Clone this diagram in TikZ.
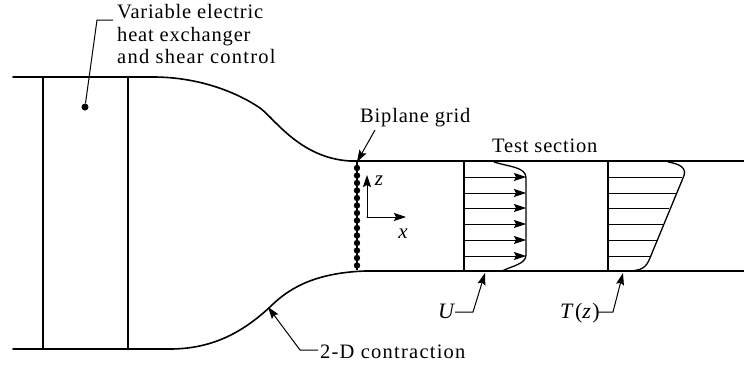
\documentclass[tikz,border=0pt]{standalone}
\usepackage{fontspec}
\setmainfont[LetterSpace=6]{Liberation Serif}
\newfontfamily\tightserif[LetterSpace=4]{Liberation Serif}
\usetikzlibrary{arrows.meta}
\tikzset{
 wall/.style={line width=1.6pt,line cap=round},
 thin wall/.style={line width=1.1pt},
 leader/.style={line width=1pt,-{Stealth[length=12pt,width=8pt,inset=2pt]}},
 plain leader/.style={line width=1pt},
 flow/.style={line width=1pt,-{Stealth[length=12pt,width=8pt,inset=2pt]}},
 rung/.style={line width=1pt},
 lab/.style={inner sep=0pt,font=\fontsize{20.5}{22.5}\selectfont,align=left},
 tightlab/.style={inner sep=0pt,font=\fontsize{20.5}{22.5}\selectfont\tightserif,align=left},
 mathlab/.style={inner sep=0pt,font=\fontsize{22}{24}\selectfont\itshape},
 axislab/.style={inner sep=0pt,font=\fontsize{21}{24}\selectfont\itshape},
 dot/.style={circle,fill=black,inner sep=0pt,minimum size=7pt},
 griddot/.style={circle,fill=black,inner sep=0pt,minimum size=6.4pt},
}
\begin{document}
\begin{tikzpicture}[x=1pt,y=-1pt]
\useasboundingbox (0,0) rectangle (744,364);
% walls
\draw[wall] (13,77) -- (153,77) .. controls (200,77) and (238,93) .. (260,108) .. controls (275,119) and (300,158) .. (350,161) -- (744,161);
\draw[wall] (13,349) -- (170,349) .. controls (215,349) and (245,330) .. (270,307) .. controls (287,290) and (312,273) .. (365,271) -- (744,271);
\draw[thin wall] (43,77) -- (43,349);
\draw[thin wall] (128,77) -- (128,349);
% leader 1
\node[dot] (hx) at (85,107) {};
\node[tightlab,anchor=base west] (hxl) at (117,19) {Variable electric};
\node[tightlab,anchor=base west] (hxm) at (117,41) {heat exchanger};
\node[lab,anchor=base west] (hxn) at (117,63.5) {and shear control};
\coordinate (hxk) at (97,20);
\coordinate (hxe) at (113,20);
\draw[plain leader] (hx) -- (hxk) -- (hxe);
% grid
\coordinate (gt) at (357,162);
\coordinate (gb) at (357,270);
\draw[line width=1.2pt] (gt) -- (gb);
\foreach \i in {0,...,13}{
  \node[griddot] at (357,{168+\i*7.5}) {};
}
\node[tightlab,anchor=base west] (bg) at (360,122) {Biplane grid};
\coordinate (bgs) at (375,130);
\draw[leader] (bgs) -- (gt);
\node[tightlab,anchor=base west] (ts) at (492,152) {Test section};
% axes
\coordinate (o) at (367,217);
\coordinate (zt) at (367,175);
\coordinate (xt) at (406,217);
\draw[flow,line cap=round] (o) -- (zt);
\draw[flow,line cap=round] (o) -- (xt);
\node[axislab,anchor=base] (zl) at (379,185) {z};
\node[axislab,anchor=base] (xl) at (403,238) {x};
% U profile
\draw[thin wall] (464,161) -- (464,271);
\foreach \y in {177,193,208,224,240,256}{
  \coordinate (a) at (464,\y); \coordinate (b) at (526,\y);
  \draw[flow] (a) -- (b);
}
\draw[line width=1.3pt] (494,162) .. controls (510,167) and (526,167) .. (526,178) -- (526,255) .. controls (526,264) and (512,266) .. (502,271);
% T profile
\draw[thin wall] (608,161) -- (608,271);
\foreach \y/\e in {177/682,193/676,208/669,224/663,240/657,256/651}{
  \coordinate (a) at (608,\y); \coordinate (b) at (\e,\y);
  \draw[rung] (a) -- (b);
}
\draw[line width=1.3pt] (668,162) .. controls (680,164) and (688,168) .. (683,178) -- (652,253) .. controls (647,266) and (645,270) .. (630,271);
% labels below
\node[mathlab,anchor=base] (ul) at (446,318) {U};
\coordinate (uf) at (485,273);
\coordinate (uk) at (473,312);
\coordinate (ue) at (455,312);
\draw[leader] (ue) -- (uk) -- (uf);
\node[mathlab,anchor=base west] (tl) at (560,318) {T\textup{(}z\textup{)}};
\coordinate (tf) at (623,273);
\coordinate (tk) at (613,312);
\coordinate (te) at (598,312);
\draw[leader] (te) -- (tk) -- (tf);
\node[lab,anchor=base west] (cl) at (320,358) {2-D contraction};
\coordinate (cf) at (268,307);
\coordinate (ck) at (300,350);
\coordinate (ce) at (318,350);
\draw[leader] (ce) -- (ck) -- (cf);
\end{tikzpicture}
\end{document}
